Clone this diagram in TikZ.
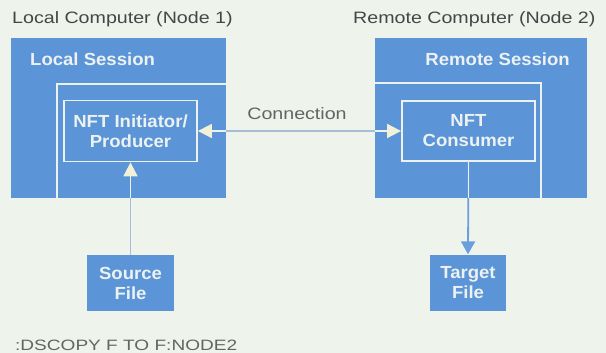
\documentclass[tikz,border=0pt]{standalone}
\usepackage{fontspec}
\setmainfont{Liberation Sans}
\newfontfamily\ttlfont[FakeStretch=1.19]{Liberation Sans}
\newfontfamily\boxfont[FakeStretch=1.06]{Liberation Sans}
\newfontfamily\cmdfont[FakeStretch=1.27]{Liberation Sans}
\usepackage{xcolor}
\usepackage{tikz}
\usetikzlibrary{positioning}
\usetikzlibrary{arrows.meta}
\usetikzlibrary{calc}
\definecolor{nftblue}{RGB}{92,148,216}
\definecolor{paper}{RGB}{238,243,236}
\definecolor{inkgray}{RGB}{70,70,70}
\definecolor{lblgray}{RGB}{100,100,100}
\definecolor{linkgray}{RGB}{168,190,214}
\definecolor{linkblue}{RGB}{106,158,220}
\definecolor{tipcol}{RGB}{242,240,214}
\definecolor{boxtxt}{RGB}{236,242,240}
\tikzset{blk/.style={rectangle,fill=nftblue,inner sep=0pt,align=center,text=boxtxt,font=\boxfont\bfseries\fontsize{17.5}{20}\selectfont}}
\tikzset{fr/.style={blk,draw=boxtxt,line width=1.8pt}}
\tikzset{ttl/.style={anchor=base west,inner sep=0pt,text=inkgray,font=\ttlfont\fontsize{16.5}{20}\selectfont}}
\tikzset{wire/.style={line width=1.8pt,draw=boxtxt}}
\tikzset{Pale/.tip={Triangle[width=14pt,length=14pt,color=tipcol]}}
\tikzset{Bluetip/.tip={Triangle[width=14pt,length=13pt,color=linkblue]}}

\begin{document}
\begin{tikzpicture}[x=1pt,y=-1pt]

	\fill[paper] (0,0) rectangle (606,353);
	\useasboundingbox (0,0) rectangle (606,353);

	\def\ytop{38};
	\def\hgt{160};

	\foreach \x/\w/\name in {11/215/loc, 375/212/rem}{
		\node[blk, minimum width=\w pt, minimum height=\hgt pt, anchor=north west] (\name) at (\x,\ytop) {};
	}
	\node[blk, anchor=base west] (locs) at (30,66) {Local Session};
	\node[blk, anchor=base east] (rems) at (570,66) {Remote Session};

	\draw[wire] (57,198) |- (226,84);
	\draw[wire] (375,83) -| (541,198);

	\node[fr, minimum width=133pt, minimum height=61pt] (init) at (130.5,131) {NFT Initiator/\\Producer};
	\node[fr, minimum width=133pt, minimum height=60pt] (cons) at (468.5,131) {NFT\\Consumer};

	\foreach \x/\y/\w/\name/\txt in {130.5/283/87/src/{Source\\File}, 468/282.5/76/tgt/{Target\\File}}{
		\node[blk, minimum width=\w pt, minimum height=56pt] (\name) at (\x,\y) {\txt};
	}

	\node[ttl] (lct) at (12,24) {Local Computer (Node 1)};
	\node[ttl] (rct) at (353,24) {Remote Computer (Node 2)};
	\node[ttl, anchor=base, text=lblgray] (clbl) at (297,120) {Connection};
	\node[anchor=base west, inner sep=0pt, text=lblgray, font=\cmdfont\fontsize{15}{18}\selectfont] (cmd) at (15,350) {:DSCOPY F TO F:NODE2};

	\draw[wire, Pale-Pale] (init.east) -- (cons.west);
	\draw[wire, draw=linkgray] (loc.east |- init.east) -- (rem.west |- cons.west);

	\draw[wire, -Pale] (src.north) -- (init.south);
	\draw[wire, draw=linkgray] (src.north) -- (src.north |- loc.south);

	\draw[wire, draw=linkblue, -Bluetip] (cons.south) -- (tgt.north);
	\draw[wire] (cons.south) -- (cons.south |- rem.south);

\end{tikzpicture}
\end{document}
